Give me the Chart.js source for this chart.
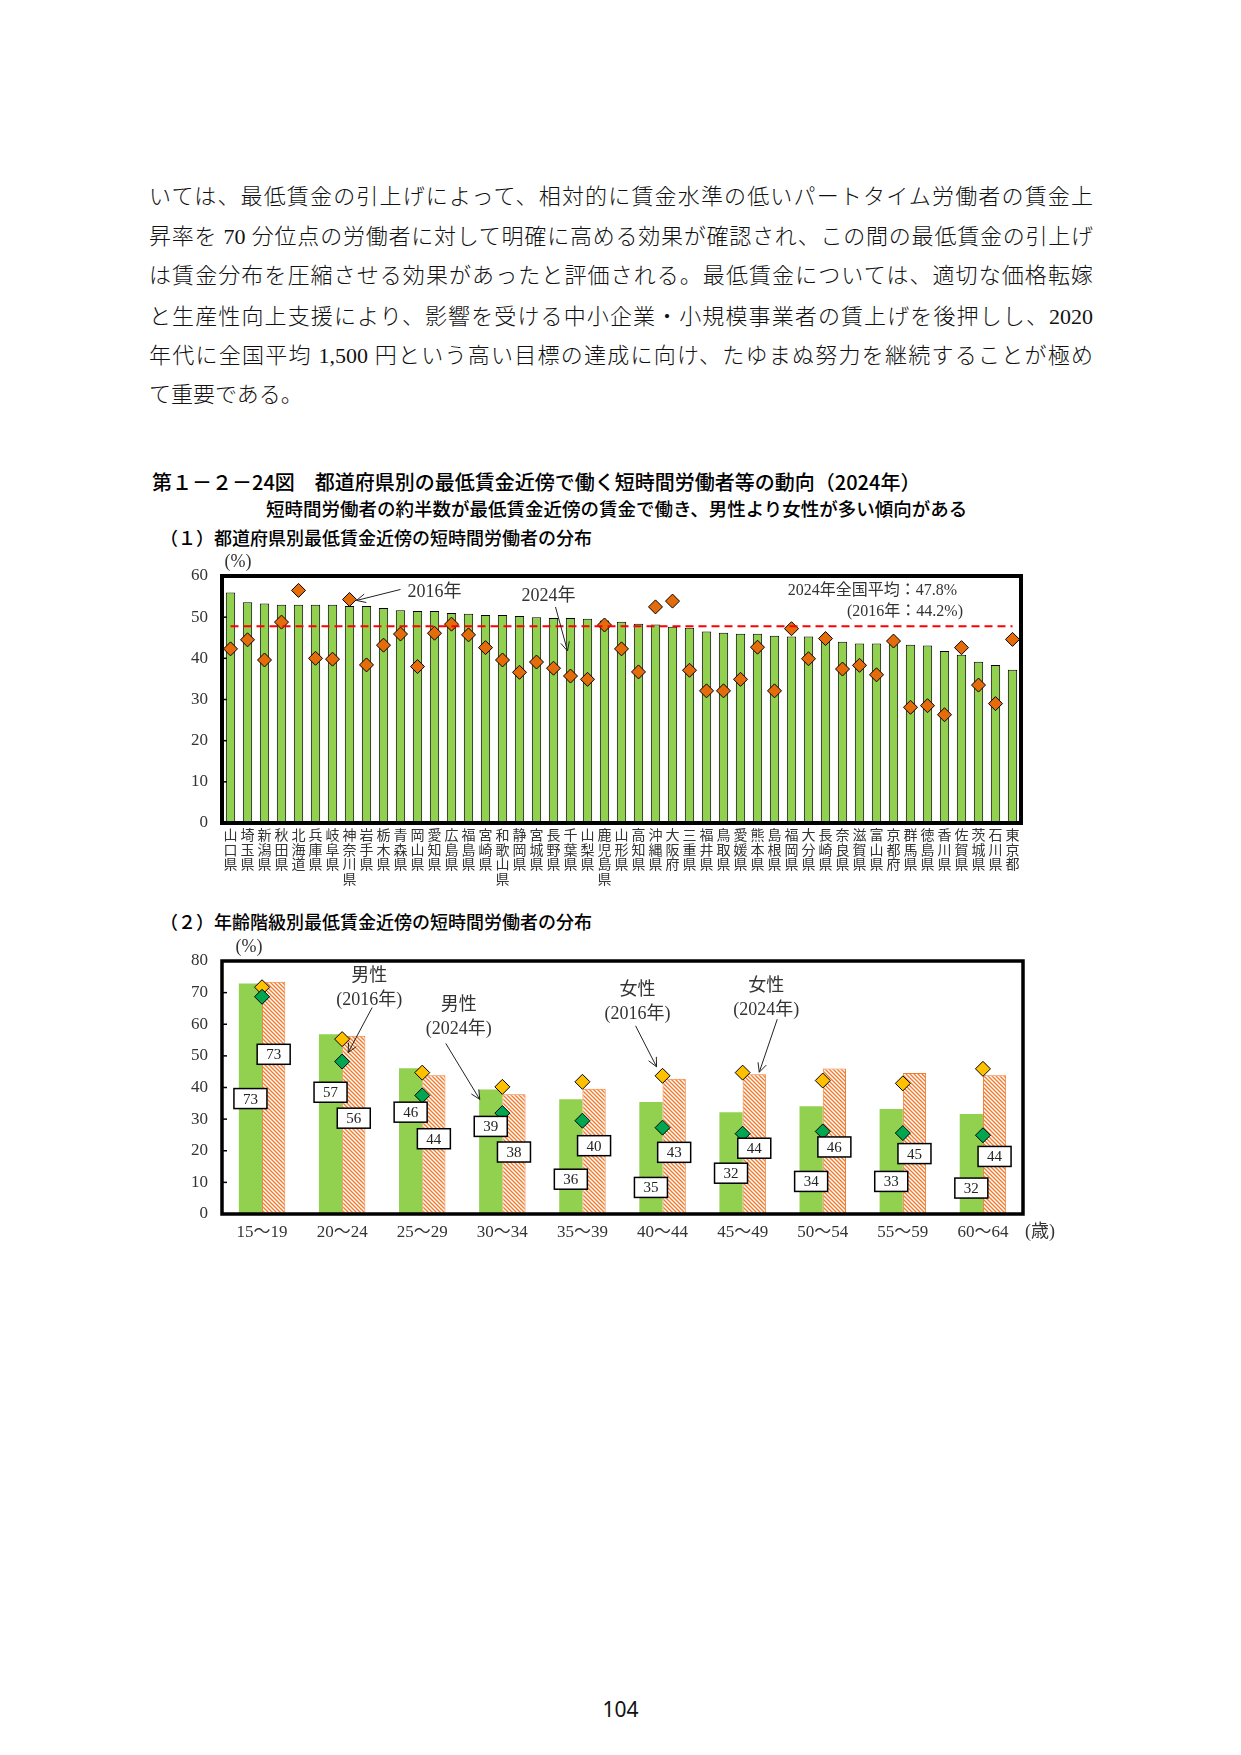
<!DOCTYPE html>
<html>
<head>
<meta charset="utf-8">
<script src="https://cdn.jsdelivr.net/npm/chart.js@4.4.1/dist/chart.umd.min.js"></script>
<style>
  body { margin:0; width:1241px; height:1755px; background:#fff; position:relative; overflow:hidden;
         font-family:'Liberation Serif','Noto Sans CJK JP',serif; color:#111; }
  .ln { position:absolute; left:149px; width:944px; font-size:22px; line-height:30px; white-space:nowrap;
        text-align:justify; text-align-last:justify; font-weight:300; }
  .ln.last { text-align-last:left; }
  .gt { position:absolute; font-family:'Noto Sans CJK JP',sans-serif; white-space:nowrap; font-weight:500; color:#000; }
  canvas { position:absolute; }
  #pg { position:absolute; left:0; width:1241px; top:1695px; text-align:center; font-family:'Noto Sans','Liberation Sans',sans-serif; font-size:21px; }
</style>
</head>
<body>
<div class="ln" style="top:182px">いては、最低賃金の引上げによって、相対的に賃金水準の低いパートタイム労働者の賃金上</div>
<div class="ln" style="top:222px">昇率を 70 分位点の労働者に対して明確に高める効果が確認され、この間の最低賃金の引上げ</div>
<div class="ln" style="top:261px">は賃金分布を圧縮させる効果があったと評価される。最低賃金については、適切な価格転嫁</div>
<div class="ln" style="top:302px">と生産性向上支援により、影響を受ける中小企業・小規模事業者の賃上げを後押しし、2020</div>
<div class="ln" style="top:341px">年代に全国平均 1,500 円という高い目標の達成に向け、たゆまぬ努力を継続することが極め</div>
<div class="ln last" style="top:380px">て重要である。</div>

<div class="gt" style="left:152px;top:467px;font-size:20px">第１－２－24図　都道府県別の最低賃金近傍で働く短時間労働者等の動向（2024年）</div>
<div class="gt" style="left:266px;top:495px;font-size:18.5px">短時間労働者の約半数が最低賃金近傍の賃金で働き、男性より女性が多い傾向がある</div>
<div class="gt" style="left:160px;top:524px;font-size:18px">（１）都道府県別最低賃金近傍の短時間労働者の分布</div>
<div class="gt" style="left:160px;top:908px;font-size:18px">（２）年齢階級別最低賃金近傍の短時間労働者の分布</div>

<canvas id="c1" width="900" height="350" style="left:150px;top:550px"></canvas>
<canvas id="c2" width="910" height="330" style="left:150px;top:930px"></canvas>

<div id="pg">104</div>

<script>
// (1) prefectures, sorted by 2024 share
const prefectures = ['山口県','埼玉県','新潟県','秋田県','北海道','兵庫県','岐阜県','神奈川県','岩手県','栃木県',
  '青森県','岡山県','愛知県','広島県','福島県','宮崎県','和歌山県','静岡県','宮城県','長野県',
  '千葉県','山梨県','鹿児島県','山形県','高知県','沖縄県','大阪府','三重県','福井県','鳥取県',
  '愛媛県','熊本県','島根県','福岡県','大分県','長崎県','奈良県','滋賀県','富山県','京都府',
  '群馬県','徳島県','香川県','佐賀県','茨城県','石川県','東京都'];
const share2024 = [56.0,53.6,53.3,53.0,53.0,53.0,53.0,52.7,52.7,52.2,
  51.7,51.5,51.5,51.0,50.8,50.5,50.5,50.3,50.0,49.8,
  49.8,49.6,49.2,48.9,48.4,48.2,47.7,47.4,46.5,46.2,
  46.0,46.0,45.5,45.3,45.3,44.8,44.0,43.6,43.6,43.4,
  43.3,43.1,41.8,40.9,39.2,38.4,37.2];
const share2016 = [42.3,44.5,39.6,48.8,56.5,40.0,39.8,54.3,38.4,43.2,
  45.9,38.0,46.1,48.3,45.7,42.6,39.6,36.6,39.1,37.6,
  35.7,34.9,48.1,42.3,36.7,52.5,53.9,37.1,32.1,32.1,
  34.9,42.7,32.1,47.2,39.9,44.8,37.4,38.3,36.0,44.2,
  28.1,28.5,26.3,42.6,33.5,29.0,44.6];
const avg2024 = 47.8;
const avg2016 = 44.2;
const ticks1 = [0,10,20,30,40,50,60];

// (2) age groups
const ageGroups = ['15～19','20～24','25～29','30～34','35～39','40～44','45～49','50～54','55～59','60～64'];
const male2024   = [72.9,56.8,46.1,39.4,36.3,35.4,32.2,34.1,33.2,31.6];
const female2024 = [73.4,56.4,43.9,37.9,39.6,42.8,44.2,46.0,44.6,43.9];
const male2016   = [68.7,48.2,37.5,31.9,29.5,27.3,25.4,26.1,25.6,24.9];
const female2016 = [71.7,55.3,44.7,40.2,41.8,43.7,44.7,42.2,41.3,45.9];
const ticks2 = [0,10,20,30,40,50,60,70,80];

// where the value boxes sit (axis units, layout only)
const maleBoxAt   = [36.5,38.5,32.2,27.7,11.0,8.4,12.9,10.3,10.3,8.2];
const femaleBoxAt = [50.5,30.3,23.8,19.6,21.6,19.5,20.8,21.2,19.1,18.2];

const FONT = "'Liberation Serif','Noto Sans CJK JP',serif";
Chart.defaults.font.family = FONT;
Chart.defaults.color = '#333';
Chart.defaults.animation = false;

function arrow(ctx, x1, y1, x2, y2) {
  const a = Math.atan2(y2 - y1, x2 - x1), h = 10, w = 0.45;
  ctx.save();
  ctx.strokeStyle = '#222'; ctx.lineWidth = 1;
  ctx.beginPath();
  ctx.moveTo(x1, y1); ctx.lineTo(x2, y2);
  ctx.moveTo(x2 - h * Math.cos(a - w), y2 - h * Math.sin(a - w));
  ctx.lineTo(x2, y2);
  ctx.lineTo(x2 - h * Math.cos(a + w), y2 - h * Math.sin(a + w));
  ctx.stroke();
  ctx.restore();
}

function frame(width) {
  return {
    id: 'frame',
    afterDatasetsDraw(chart) {
      const {ctx, chartArea: a, scales: {y}} = chart;
      ctx.save();
      ctx.strokeStyle = '#000';
      ctx.lineWidth = 1.5;
      y.ticks.forEach(t => {
        const py = y.getPixelForValue(t.value);
        ctx.beginPath(); ctx.moveTo(a.left, py); ctx.lineTo(a.left + 5, py); ctx.stroke();
      });
      ctx.lineWidth = width;
      ctx.strokeRect(a.left, a.top, a.right - a.left, a.bottom - a.top);
      ctx.restore();
    }
  };
}

function yAxis(ticks, w) {
  return {
    min: ticks[0], max: ticks[ticks.length - 1],
    ticks: {stepSize: ticks[1] - ticks[0], padding: 14, font: {size: 17}, color: '#333'},
    grid: {display: false, drawTicks: false},
    border: {display: false},
    afterFit: s => { s.width = w; }
  };
}

// ---------- chart 1 ----------
const extras1 = {
  id: 'extras1',
  afterDraw(chart) {
    const {ctx, chartArea: a, scales: {x, y}} = chart;
    ctx.save();
    // national average line
    ctx.strokeStyle = '#FF0000'; ctx.lineWidth = 2; ctx.setLineDash([8, 5]);
    const ay = y.getPixelForValue(avg2024);
    ctx.beginPath(); ctx.moveTo(x.getPixelForValue(0), ay); ctx.lineTo(x.getPixelForValue(prefectures.length - 1), ay); ctx.stroke();
    ctx.setLineDash([]);

    ctx.fillStyle = '#333';
    ctx.font = '18px ' + FONT;
    ctx.textBaseline = 'middle';
    ctx.textAlign = 'center';
    ctx.fillText('(%)', a.left + 16, a.top - 14);

    ctx.font = '16px ' + FONT;
    ctx.textAlign = 'right';
    ctx.fillText('2024年全国平均：47.8%', a.right - 64, ay - 35);
    ctx.fillText('(2016年：44.2%)', a.right - 58, ay - 14);

    // 2016 marker note
    ctx.font = '18px ' + FONT;
    let px = x.getPixelForValue(7), py = y.getPixelForValue(share2016[7]);
    ctx.textAlign = 'left';
    ctx.fillText('2016年', px + 58, py - 7);
    arrow(ctx, px + 51, py - 10, px + 7, py + 1);

    // 2024 bar note
    px = x.getPixelForValue(20); py = y.getPixelForValue(share2024[20]);
    ctx.textAlign = 'center';
    ctx.fillText('2024年', px - 22, py - 22);
    arrow(ctx, px - 15, py - 11, px - 3, py + 33);
    ctx.restore();
  }
};

new Chart(document.getElementById('c1'), {
  type: 'bar',
  data: {
    labels: prefectures.map(p => p.split('')),
    datasets: [{
      type: 'line', label: '2016年', data: share2016, showLine: false,
      pointStyle: 'rectRot', pointRadius: 7, pointBackgroundColor: '#E46C0A',
      pointBorderColor: '#000', pointBorderWidth: 1, order: 0
    }, {
      label: '2024年', data: share2024, backgroundColor: '#92D050',
      borderColor: '#000', borderWidth: 1, barPercentage: 0.55, categoryPercentage: 1, order: 1
    }]
  },
  options: {
    responsive: false,
    devicePixelRatio: 1,
    layout: {padding: {top: 26, right: 29, left: 0, bottom: 0}},
    plugins: {legend: {display: false}, tooltip: {enabled: false}},
    scales: {
      x: {
        ticks: {autoSkip: false, maxRotation: 0, padding: 6, font: {size: 14, lineHeight: 1.05}, color: '#333'},
        grid: {display: false, drawTicks: false},
        border: {display: false},
        afterFit: s => { s.height = 77; }
      },
      y: yAxis(ticks1, 72)
    }
  },
  plugins: [frame(4), extras1]
});

// ---------- chart 2 ----------
const c2 = document.getElementById('c2');
function hatch(ctx, color) {
  const t = document.createElement('canvas');
  t.width = t.height = 4;
  const g = t.getContext('2d');
  g.fillStyle = '#fff'; g.fillRect(0, 0, 4, 4);
  g.strokeStyle = color; g.lineWidth = 1.4;
  g.beginPath();
  g.moveTo(-1, -1); g.lineTo(5, 5);
  g.moveTo(-1, 3); g.lineTo(1, 5);
  g.moveTo(3, -1); g.lineTo(5, 1);
  g.stroke();
  return ctx.createPattern(t, 'repeat');
}

function valueBox(ctx, cx, cy, txt) {
  const w = 33, h = 20;
  ctx.fillStyle = '#fff';
  ctx.fillRect(cx - w / 2, cy - h / 2, w, h);
  ctx.strokeStyle = '#000'; ctx.lineWidth = 1.5;
  ctx.strokeRect(cx - w / 2, cy - h / 2, w, h);
  ctx.fillStyle = '#222';
  ctx.fillText(txt, cx, cy + 1);
}

const extras2 = {
  id: 'extras2',
  afterDraw(chart) {
    const {ctx, chartArea: a, scales: {y}} = chart;
    const mBars = chart.getDatasetMeta(2).data, fBars = chart.getDatasetMeta(3).data;
    const mDots = chart.getDatasetMeta(0).data, fDots = chart.getDatasetMeta(1).data;
    ctx.save();
    ctx.textAlign = 'center'; ctx.textBaseline = 'middle';
    ctx.font = '15px ' + FONT;
    ageGroups.forEach((g, i) => {
      valueBox(ctx, mBars[i].x, y.getPixelForValue(maleBoxAt[i]), Math.round(male2024[i]));
      valueBox(ctx, fBars[i].x, y.getPixelForValue(femaleBoxAt[i]), Math.round(female2024[i]));
    });

    ctx.fillStyle = '#333';
    ctx.font = '18px ' + FONT;
    ctx.fillText('(%)', a.left + 27, a.top - 14);
    ctx.fillText('(歳)', a.right + 17, a.bottom + 18);

    const note = (p, line1, line2, tx, ty, sx, sy, ex, ey) => {
      ctx.fillText(line1, p.x + tx, p.y + ty);
      ctx.fillText(line2, p.x + tx, p.y + ty + 24);
      arrow(ctx, p.x + sx, p.y + sy, p.x + ex, p.y + ey);
    };
    note(mDots[1], '男性', '(2016年)', 27, -85, 30, -54, 6, -9);
    note({x: mBars[3].x, y: mBars[3].y}, '男性', '(2024年)', -32, -84, -45, -46, -11, 10);
    note(fDots[5], '女性', '(2016年)', -25, -86, -27, -50, -6, -9);
    note({x: fBars[6].x, y: fBars[6].y}, '女性', '(2024年)', 12, -88, 23, -55, 5, -2);
    ctx.restore();
  }
};

new Chart(c2, {
  type: 'bar',
  data: {
    labels: ageGroups,
    datasets: [{
      type: 'line', label: '男性（2016年）', data: male2016, showLine: false,
      pointStyle: 'rectRot', pointRadius: 7.5, pointBackgroundColor: '#00A650',
      pointBorderColor: '#000', pointBorderWidth: 1, order: 0
    }, {
      type: 'line', label: '女性（2016年）', data: female2016, showLine: false,
      pointStyle: 'rectRot', pointRadius: 7.5, pointBackgroundColor: '#FFC000',
      pointBorderColor: '#000', pointBorderWidth: 1, order: 0
    }, {
      label: '男性（2024年）', data: male2024, backgroundColor: '#92D050', borderWidth: 0,
      categoryPercentage: 0.58, barPercentage: 1, order: 2
    }, {
      label: '女性（2024年）', data: female2024, backgroundColor: hatch(c2.getContext('2d'), '#ED7D31'),
      borderColor: '#ED7D31', borderWidth: 1, categoryPercentage: 0.58, barPercentage: 1, order: 2
    }]
  },
  options: {
    responsive: false,
    devicePixelRatio: 1,
    layout: {padding: {top: 31, right: 37, left: 0, bottom: 0}},
    plugins: {legend: {display: false}, tooltip: {enabled: false}},
    scales: {
      x: {
        ticks: {padding: 8, font: {size: 17}, color: '#333'},
        grid: {display: false, drawTicks: false},
        border: {display: false},
        afterFit: s => { s.height = 46; }
      },
      y: yAxis(ticks2, 72)
    }
  },
  plugins: [frame(3.5), extras2]
});
</script>
</body>
</html>
